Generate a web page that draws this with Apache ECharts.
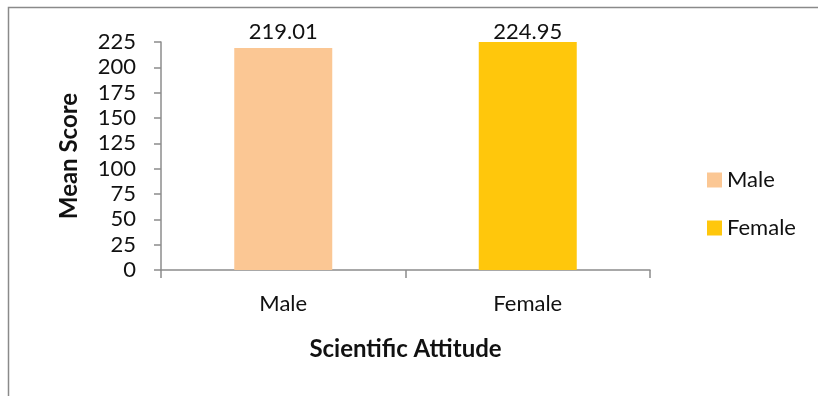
<!DOCTYPE html>
<html>
<head>
<meta charset="utf-8">
<script src="https://cdn.jsdelivr.net/npm/echarts@6/dist/echarts.min.js"></script>
<style>
  html, body { margin: 0; padding: 0; background: #fff; }
  #chart { width: 818px; height: 396px; }
</style>
</head>
<body>
<div id="chart"></div>
<script>
// Mean scientific attitude scores by gender
const categories = ['Male', 'Female'];
const maleValues = [219.01, null];
const femaleValues = [null, 224.95];
const yTicks = [0, 25, 50, 75, 100, 125, 150, 175, 200, 225];

const FONT = 'Lato, "Open Sans", sans-serif';
const axisGray = '#8c8c8c';

const chart = echarts.init(document.getElementById('chart'));
chart.setOption({
  backgroundColor: '#ffffff',
  animation: false,
  textStyle: { fontFamily: FONT, color: '#111' },
  graphic: [{
    // chart-area frame; its right and bottom edges run off the page
    type: 'rect',
    shape: { x: 8.5, y: 7.5, width: 900, height: 450 },
    style: { fill: 'none', stroke: '#8a8a8a', lineWidth: 1.5 },
    silent: true
  }],
  grid: { left: 161, right: 168, top: 42, bottom: 126 },
  legend: {
    orient: 'vertical',
    left: 702,
    top: 164,
    itemWidth: 15,
    itemHeight: 15,
    itemGap: 26,
    icon: 'rect',
    textStyle: { fontFamily: FONT, fontSize: 22, color: '#111' },
    data: ['Male', 'Female']
  },
  xAxis: {
    type: 'category',
    data: categories,
    name: 'Scientific Attitude',
    nameLocation: 'middle',
    nameGap: 67,
    nameTextStyle: { fontFamily: FONT, fontSize: 24, fontWeight: 'bold', color: '#111' },
    axisLine: { lineStyle: { color: axisGray, width: 1.5 } },
    axisTick: { show: true, length: 8, lineStyle: { color: axisGray, width: 1.5 } },
    axisLabel: { fontFamily: FONT, fontSize: 22, color: '#111', margin: 23 }
  },
  yAxis: {
    type: 'value',
    min: yTicks[0],
    max: yTicks[yTicks.length - 1],
    interval: yTicks[1] - yTicks[0],
    name: 'Mean Score',
    nameLocation: 'middle',
    nameGap: 80,
    nameRotate: 90,
    nameTextStyle: { fontFamily: FONT, fontSize: 24, fontWeight: 'bold', color: '#111' },
    axisLine: { show: true, lineStyle: { color: axisGray, width: 1.5 } },
    axisTick: { show: true, length: 7, lineStyle: { color: axisGray, width: 1.5 } },
    splitLine: { show: false },
    axisLabel: { fontFamily: FONT, fontSize: 22, color: '#111', margin: 25 }
  },
  series: [
    {
      name: 'Male',
      type: 'bar',
      data: maleValues,
      barWidth: 98,
      barGap: '-100%',
      itemStyle: { color: '#FBC794' },
      label: {
        show: true, position: 'top', distance: 5,
        fontFamily: FONT, fontSize: 22, lineHeight: 22, color: '#111',
        formatter: p => p.value.toFixed(2)
      }
    },
    {
      name: 'Female',
      type: 'bar',
      data: femaleValues,
      barWidth: 98,
      barGap: '-100%',
      itemStyle: { color: '#FFC70C' },
      label: {
        show: true, position: 'top', distance: -1,
        fontFamily: FONT, fontSize: 22, lineHeight: 22, color: '#111',
        formatter: p => p.value.toFixed(2)
      }
    }
  ]
});
</script>
</body>
</html>
